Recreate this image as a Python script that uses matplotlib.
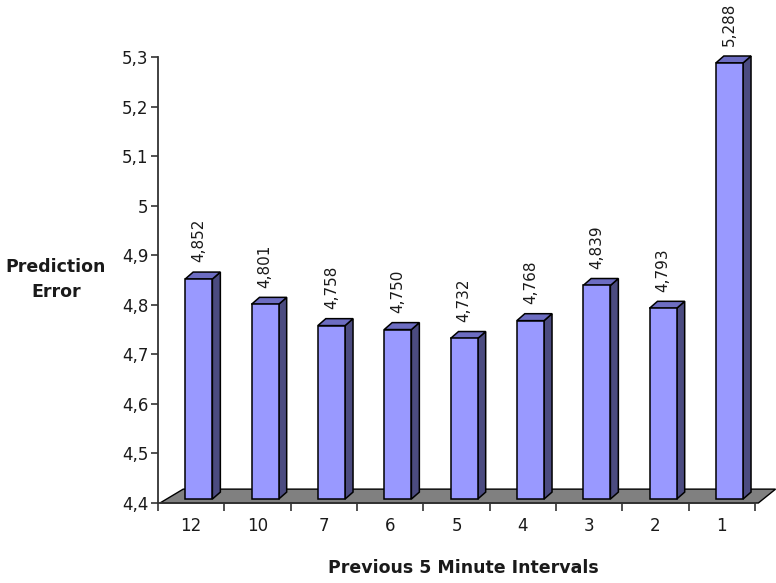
import matplotlib

matplotlib.use("Agg")
import matplotlib.pyplot as plt
from matplotlib.patches import Polygon

# Prediction error per number of previous 5-minute intervals used
intervals = ["12", "10", "7", "6", "5", "4", "3", "2", "1"]
errors = [4.852, 4.801, 4.758, 4.750, 4.732, 4.768, 4.839, 4.793, 5.288]
value_labels = ["4,852", "4,801", "4,758", "4,750", "4,732", "4,768", "4,839", "4,793", "5,288"]
ytick_vals = [4.4, 4.5, 4.6, 4.7, 4.8, 4.9, 5.0, 5.1, 5.2, 5.3]
ytick_labels = ["4,4", "4,5", "4,6", "4,7", "4,8", "4,9", "5", "5,1", "5,2", "5,3"]

YMIN, YMAX = 4.4, 5.3
FRONT = "#9999ff"
TOP = "#6d6dc2"
SIDE = "#4b4b80"
FLOOR = "#808080"
TXT = "#1a1a1a"

plt.rcParams["font.family"] = ["DejaVu Sans"]

fig = plt.figure(figsize=(7.76, 5.83), dpi=100)
ax = fig.add_axes([158 / 776, 80 / 583, 597 / 776, 446 / 583])
ax.set_xlim(-0.5, len(intervals) - 0.5)
ax.set_ylim(YMIN, YMAX)

# pseudo-3D depth (data units)
bx0, bw = -0.09, 0.41      # front face left offset and width
bdx, bdy = 0.12, 0.014     # bar depth
fdx, fdy = 0.33, 0.028     # floor depth
lift = 0.008               # bars stand slightly inside the floor

n = len(intervals)
floor = Polygon([(-0.47, YMIN), (n - 0.45, YMIN), (n - 0.45 + fdx - 0.07, YMIN + fdy),
                 (-0.5 + fdx + 0.05, YMIN + fdy)],
                closed=True, fc=FLOOR, ec="black", lw=1.0, zorder=1, clip_on=False)
ax.add_patch(floor)

for i, v in enumerate(errors):
    x0 = i + bx0
    x1 = x0 + bw
    y0 = YMIN + lift
    side = Polygon([(x1, y0), (x1 + bdx, y0 + bdy), (x1 + bdx, v + bdy), (x1, v)],
                   closed=True, fc=SIDE, ec="black", lw=1.1, zorder=2, clip_on=False)
    top = Polygon([(x0, v), (x1, v), (x1 + bdx, v + bdy), (x0 + bdx, v + bdy)],
                  closed=True, fc=TOP, ec="black", lw=1.1, zorder=2, clip_on=False)
    ax.add_patch(side)
    ax.add_patch(top)
    ax.bar(x0, v - y0, width=bw, bottom=y0, align="edge", color=FRONT,
           edgecolor="black", lw=1.1, zorder=3, clip_on=False)
    ax.annotate(value_labels[i], (x0 + bw / 2, v + bdy), xytext=(0, 7),
                textcoords="offset points", rotation=90, ha="center", va="bottom",
                fontsize=11, color=TXT, annotation_clip=False)

for s in ("top", "right"):
    ax.spines[s].set_visible(False)
for s in ("left", "bottom"):
    ax.spines[s].set_color("#333333")
    ax.spines[s].set_linewidth(1.3)

ax.set_yticks(ytick_vals)
ax.set_yticklabels(ytick_labels)
ax.tick_params(axis="y", length=5, width=1.2, color="#333333", pad=2,
               labelsize=12, labelcolor=TXT)

# category boundaries carry the ticks, labels sit between them
ax.set_xticks([k - 0.5 for k in range(n + 1)])
ax.set_xticklabels([])
ax.set_xticks(range(n), minor=True)
ax.set_xticklabels(intervals, minor=True)
ax.tick_params(axis="x", which="major", length=6, width=1.2, color="#333333")
ax.tick_params(axis="x", which="minor", length=0, pad=10, labelsize=12, labelcolor=TXT)

fig.text(463 / 776, 1 - 568 / 583, "Previous 5 Minute Intervals", ha="center", va="center",
         fontsize=12.5, fontweight="bold", color=TXT)
fig.text(56 / 776, 1 - 280 / 583, "Prediction\nError", ha="center", va="center",
         fontsize=12.5, fontweight="bold", color=TXT, linespacing=1.5)

fig.savefig("out.png", dpi=100)
